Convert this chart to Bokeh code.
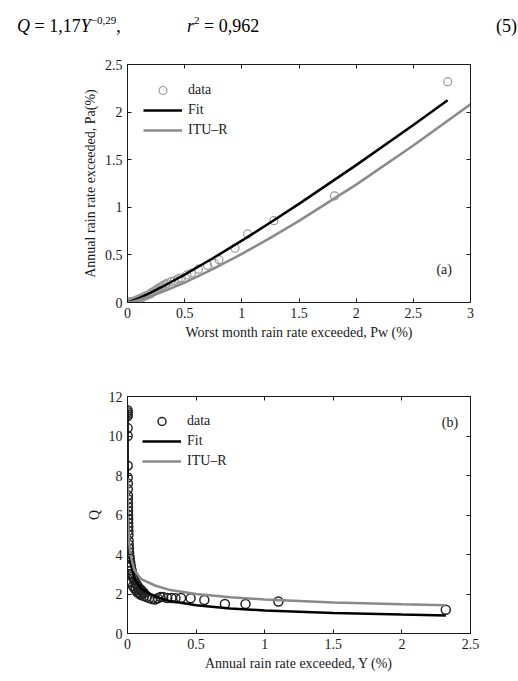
from bokeh.plotting import figure
from bokeh.models import Range1d, FixedTicker, LinearAxis, Label, Div
from bokeh.layouts import column
from bokeh.embed import file_html
from bokeh.resources import INLINE

SERIF = "Liberation Serif"
DARK = "#1a1a1a"
GRAY = "#8a8a8a"

# ---------------- data: panel (a) ----------------
A_PW = [0.0, 0.005, 0.01, 0.015, 0.02, 0.025, 0.03, 0.035, 0.04, 0.045, 0.05, 0.06,
        0.07, 0.08, 0.09, 0.1, 0.11, 0.125, 0.14, 0.16, 0.18, 0.2, 0.205, 0.22, 0.235,
        0.25, 0.26, 0.27, 0.29, 0.3, 0.31, 0.33, 0.344, 0.38, 0.41, 0.444, 0.47, 0.52,
        0.56, 0.62, 0.70, 0.76, 0.80, 0.94, 1.05, 1.28, 1.81, 2.80]
A_PA = [0.0, 0.0005, 0.001, 0.002, 0.003, 0.004, 0.005, 0.006, 0.008, 0.01, 0.012, 0.016,
        0.02, 0.025, 0.03, 0.035, 0.04, 0.05, 0.06, 0.07, 0.08, 0.09, 0.1, 0.11, 0.12,
        0.13, 0.14, 0.15, 0.16, 0.17, 0.18, 0.19, 0.2, 0.22, 0.23, 0.25, 0.26, 0.29,
        0.31, 0.35, 0.39, 0.41, 0.45, 0.57, 0.72, 0.86, 1.12, 2.32]
A_FIT_PW = [0.0, 0.05, 0.1, 0.2, 0.3, 0.5, 0.75, 1.0, 1.25, 1.5, 2.0, 2.5, 2.8]
A_FIT_PA = [0.0, 0.021, 0.046, 0.102, 0.163, 0.293, 0.467, 0.65, 0.84, 1.036, 1.443, 1.864, 2.124]
A_ITU_PW = [0.0, 0.05, 0.1, 0.2, 0.3, 0.5, 0.75, 1.0, 1.25, 1.5, 2.0, 2.5, 3.0]
A_ITU_PA = [0.0, 0.011, 0.027, 0.065, 0.109, 0.21, 0.353, 0.51, 0.679, 0.857, 1.238, 1.649, 2.083]
A_X_TICKS = [0, 0.5, 1, 1.5, 2, 2.5, 3]
A_X_LABELS = ["0", "0.5", "1", "1.5", "2", "2.5", "3"]
A_Y_TICKS = [0, 0.5, 1, 1.5, 2, 2.5]
A_Y_LABELS = ["0", "0.5", "1", "1.5", "2", "2.5"]

# ---------------- data: panel (b) ----------------
B_Y = [0.0005, 0.0006, 0.0007, 0.0008, 0.001, 0.0012, 0.0015, 0.0018, 0.002, 0.0022,
       0.0025, 0.0028, 0.003, 0.0033, 0.0036, 0.004, 0.0045, 0.005, 0.0055, 0.006,
       0.007, 0.008, 0.009, 0.01, 0.012, 0.014,
       0.016, 0.02, 0.025, 0.03, 0.035, 0.04, 0.045, 0.05, 0.06, 0.07, 0.08, 0.09,
       0.1, 0.11, 0.12,
       0.02, 0.03, 0.04, 0.05, 0.06, 0.07, 0.08, 0.09, 0.1, 0.12, 0.14, 0.16, 0.18,
       0.2, 0.22, 0.24, 0.26, 0.29, 0.32, 0.35, 0.39, 0.46, 0.56, 0.71, 0.86, 1.1, 2.32]
B_Q = [11.3, 11.2, 11.1, 11.0, 10.4, 10.0, 8.5, 7.9, 7.6, 7.3,
       7.0, 6.8, 6.6, 6.4, 6.2, 6.0, 5.8, 5.6, 5.4, 5.2,
       5.0, 4.7, 4.5, 4.3, 4.1, 3.9,
       3.8, 3.6, 3.4, 3.2, 3.0, 2.9, 2.8, 2.7, 2.55, 2.45, 2.35, 2.25,
       2.2, 2.1, 2.05,
       3.0, 2.6, 2.4, 2.3, 2.2, 2.1, 2.05, 2.0, 1.95, 1.9, 1.85, 1.8, 1.75,
       1.72, 1.78, 1.85, 1.85, 1.8, 1.8, 1.78, 1.8, 1.78, 1.7, 1.5, 1.5, 1.62, 1.2]
B_FIT_Y = [0.0004, 0.001, 0.002, 0.005, 0.01, 0.02, 0.05, 0.1, 0.2, 0.3, 0.5, 0.75, 1.0, 1.5, 2.0, 2.32]
B_FIT_Q = [11.3, 8.67, 7.09, 5.44, 4.45, 3.64, 2.79, 2.28, 1.87, 1.66, 1.43, 1.27, 1.17, 1.04, 0.957, 0.916]
B_ITU_Y = [0.001, 0.002, 0.005, 0.01, 0.02, 0.05, 0.1, 0.2, 0.3, 0.5, 0.75, 1.0, 1.5, 2.0, 2.32]
B_ITU_Q = [7.86, 6.75, 5.52, 4.74, 4.0, 3.2, 2.75, 2.43, 2.22, 2.0, 1.83, 1.72, 1.57, 1.48, 1.43]
B_X_TICKS = [0, 0.5, 1, 1.5, 2, 2.5]
B_X_LABELS = ["0", "0.5", "1", "1.5", "2", "2.5"]
B_Y_TICKS = [0, 2, 4, 6, 8, 10, 12]
B_Y_LABELS = ["0", "2", "4", "6", "8", "10", "12"]


def style_axis(ax, ticks, labels, show_labels=True):
    ax.ticker = FixedTicker(ticks=ticks)
    ax.major_label_overrides = {t: l for t, l in zip(ticks, labels)}
    ax.major_tick_in = 4
    ax.major_tick_out = 0
    ax.minor_tick_line_color = None
    ax.axis_line_color = DARK
    ax.major_tick_line_color = DARK
    ax.major_label_text_font = SERIF
    ax.major_label_text_font_size = "14px"
    ax.major_label_text_color = DARK if show_labels else None
    ax.major_label_standoff = 5
    ax.axis_label_text_font = SERIF
    ax.axis_label_text_font_size = "14px"
    ax.axis_label_text_font_style = "normal"
    ax.axis_label_text_color = DARK
    ax.axis_label_standoff = 4


def make_panel(height, xr, yr, top, bottom, left, right, xt, xl, yt, yl, xlabel, ylabel):
    p = figure(width=518, height=height, x_range=Range1d(*xr), y_range=Range1d(*yr),
               output_backend="svg", toolbar_location=None,
               min_border_top=top, min_border_bottom=bottom,
               min_border_left=left, min_border_right=right)
    p.grid.visible = False
    p.outline_line_color = DARK
    p.background_fill_color = "white"
    p.border_fill_color = "white"
    style_axis(p.below[0], xt, xl)
    style_axis(p.left[0], yt, yl)
    p.below[0].axis_label = xlabel
    p.left[0].axis_label = ylabel
    top_ax = LinearAxis()
    style_axis(top_ax, xt, xl, show_labels=False)
    p.add_layout(top_ax, "above")
    right_ax = LinearAxis()
    style_axis(right_ax, yt, yl, show_labels=False)
    p.add_layout(right_ax, "right")
    return p


def style_legend(p, margin):
    lg = p.legend[0]
    lg.location = "top_left"
    lg.border_line_color = None
    lg.background_fill_alpha = 0
    lg.label_text_font = SERIF
    lg.label_text_font_size = "14px"
    lg.label_text_color = DARK
    lg.glyph_width = 39
    lg.glyph_height = 20
    lg.label_height = 20
    lg.spacing = 0
    lg.padding = 10
    lg.margin = margin
    lg.label_standoff = 6


# ---------------- equation row ----------------
SUP = '<span style="font-size:11px;position:relative;top:-8px;">{}</span>'


def group(html, left):
    return (f'<span style="position:absolute;left:{left}px;top:17px;font-size:18px;'
            f'line-height:18px;white-space:nowrap;">{html}</span>')


eq_html = ('<div style="position:relative;width:518px;height:40px;'
           "font-family:'Liberation Serif',serif;color:#000;\">"
           + group("<i>Q</i> = 1,17<i>Y</i>" + SUP.format("\u22120,29") + ",", 17)
           + group("<i>r</i>" + SUP.format("2") + " = 0,962", 187)
           + group("(5)", 496)
           + "</div>")
eq = Div(text=eq_html, width=518, height=40, margin=0)

# ---------------- panel (a) ----------------
pa = make_panel(310, (0, 3), (0, 2.5), 24, 48, 126, 47, A_X_TICKS, A_X_LABELS,
                A_Y_TICKS, A_Y_LABELS, "Worst month rain rate exceeded, Pw (%)",
                "Annual rain rate exceeded, Pa(%)")
pa.scatter(A_PW, A_PA, marker="circle", size=8, fill_color=None, line_color="#9a9a9a",
           line_width=1.2, legend_label="data")
pa.line(A_FIT_PW, A_FIT_PA, line_color="black", line_width=2.5, legend_label="Fit")
pa.line(A_ITU_PW, A_ITU_PA, line_color=GRAY, line_width=2.5, legend_label="ITU\u2013R")
style_legend(pa, 16)
pa.add_layout(Label(x=2.77, y=0.35, text="(a)", text_font=SERIF, text_font_size="14px",
                    text_color=DARK, text_align="center", text_baseline="middle"))

# ---------------- panel (b) ----------------
pb = make_panel(331, (0, 2.5), (0, 12), 46, 48, 127, 48, B_X_TICKS, B_X_LABELS,
                B_Y_TICKS, B_Y_LABELS, "Annual rain rate exceeded, Y (%)", "Q")
pb.scatter(B_Y, B_Q, marker="circle", size=9, fill_color=None, line_color="#222222",
           line_width=1.5, legend_label="data")
pb.line(B_FIT_Y, B_FIT_Q, line_color="black", line_width=2.5, legend_label="Fit")
pb.line(B_ITU_Y, B_ITU_Q, line_color=GRAY, line_width=2.5, legend_label="ITU\u2013R")
style_legend(pb, 15)
pb.add_layout(Label(x=2.35, y=10.7, text="(b)", text_font=SERIF, text_font_size="14px",
                    text_color=DARK, text_align="center", text_baseline="middle"))

layout = column(eq, pa, pb, spacing=0)
open("out.html", "w").write(file_html(layout, INLINE))
